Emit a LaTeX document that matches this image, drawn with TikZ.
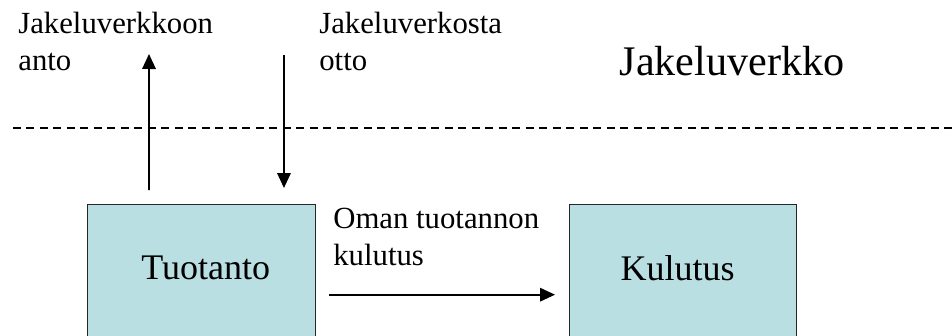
\documentclass[tikz,border=0pt]{standalone}
\usepackage{fontspec}
\setmainfont{Liberation Serif}
\usetikzlibrary{arrows.meta}
\definecolor{boxfill}{HTML}{B9DFE2}
\tikzstyle{unit} = [rectangle, minimum width=4.56cm, minimum height=3.6cm, draw=black!85, line width=0.8pt, fill=boxfill, anchor=north west]
\tikzstyle{unittext} = [font=\fontsize{20.5}{24}\selectfont, inner sep=0pt]
\tikzstyle{flow} = [font=\fontsize{17.5}{21}\selectfont, align=left, inner sep=0pt, anchor=base west]
\tikzstyle{arrow} = [line width=1pt, -{Triangle[length=0.3cm, width=0.27cm]}]

\begin{document}
\begin{tikzpicture}[x=0.02cm, y=-0.02cm]
\useasboundingbox (0,0) rectangle (952,335);
\clip (0,0) rectangle (952,335);
% Network side
\node (verkko) [font=\fontsize{24}{28}\selectfont, anchor=base, inner sep=0pt] at (732,75) {Jakeluverkko};
\node (anto) [flow] at (18,70) {Jakeluverkkoon\\anto};
\node (otto) [flow] at (319,70) {Jakeluverkosta\\otto};
\draw [line width=0.7pt, dash pattern=on 0.16cm off 0.11cm] (13,128) -- (952,128);
% Production and consumption
\node (tuot) [unit] at (87,204) {};
\node (tuottext) [unittext] at ([xshift=0.08cm, yshift=-1.28cm]tuot.north) {Tuotanto};
\node (kul) [unit, minimum width=4.54cm] at (569,204) {};
\node (kultext) [unittext] at ([xshift=-0.11cm, yshift=-1.28cm]kul.north) {Kulutus};
\node (oma) [flow] at (333,265) {Oman tuotannon\\kulutus};
% Flows
\coordinate (antoend) at (149,54);
\coordinate (ottostart) at (284,55);
\draw [arrow, shorten <=0.28cm] ([xshift=1.24cm]tuot.north west) -- (antoend);
\draw [arrow, shorten >=0.32cm] (ottostart) -- ([xshift=3.94cm]tuot.north west);
\draw [arrow, shorten <=0.26cm, shorten >=0.28cm] (tuot) -- (kul);
\end{tikzpicture}
\end{document}
